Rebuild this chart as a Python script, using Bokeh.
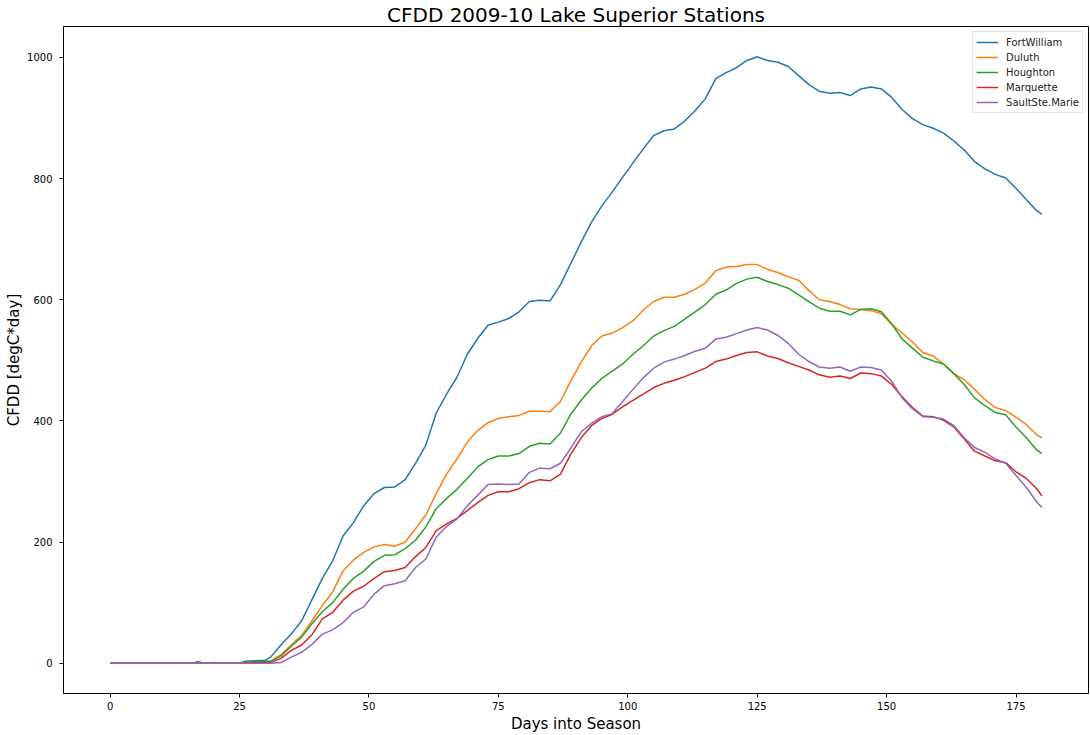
from bokeh.plotting import figure
from bokeh.models import Range1d, FixedTicker, Legend, LegendItem
from bokeh.embed import file_html
from bokeh.resources import INLINE

# Cumulative freezing degree days, 2009-10 season
days = [0, 5, 10, 15, 16, 17, 18, 19, 20, 21, 25, 26, 28, 30, 31,
        33, 35, 37, 39, 41, 43, 45, 47, 49, 51, 53, 55, 57, 59, 61, 63, 65, 67, 69,
        71, 73, 75, 77, 79, 81, 83, 85, 87, 89, 91, 93, 95, 97, 99, 101, 103, 105,
        107, 109, 111, 113, 115, 117, 119, 121, 123, 125, 127, 129, 131, 133, 135,
        137, 139, 141, 143, 145, 147, 149, 151, 153, 155, 157, 159, 161, 163, 165,
        167, 169, 171, 173, 175, 177, 179, 180]

fort_william = [0, 0, 0, 0, 0, 3, 0, 0, 1, 0, 0, 3, 4, 5, 10,
                30, 48, 70, 105, 140, 169, 210, 232, 260, 280, 290, 291, 303, 330, 360, 413, 444, 472, 510,
                536, 558, 563, 569, 580, 597, 599, 598, 625, 660, 695, 728, 755, 778, 802, 826, 849, 871,
                879, 882, 895, 912, 932, 965, 975, 983, 995, 1001, 995, 992, 985, 970, 955,
                944, 941, 942, 937, 948, 951, 948, 934, 914, 899, 889, 883, 875, 862, 847,
                828, 816, 807, 801, 784, 765, 747, 741]

duluth = [0, 0, 0, 0, 0, 0, 0, 0, 0, 0, 0, 1, 2, 2, 3,
          14, 30, 46, 70, 95, 118, 152, 170, 183, 192, 196, 193, 200, 222, 245, 280, 312, 337, 365,
          384, 397, 404, 407, 409, 416, 416, 415, 432, 466, 497, 524, 540, 545, 554, 565, 583, 597,
          604, 604, 609, 617, 628, 648, 654, 655, 658, 658, 650, 645, 638, 632, 615,
          600, 597, 592, 585, 584, 582, 577, 559, 545, 530, 513, 507, 494, 478, 468,
          452, 435, 422, 417, 406, 394, 377, 372]

houghton = [0, 0, 0, 0, 0, 0, 0, 0, 0, 0, 0, 2, 3, 3, 3,
            12, 28, 43, 65, 85, 100, 122, 140, 152, 168, 178, 179, 189, 203, 225, 255, 272, 287, 305,
            324, 336, 342, 342, 346, 358, 363, 362, 380, 411, 434, 454, 470, 482, 494, 510, 524, 540,
            549, 556, 568, 580, 592, 609, 616, 627, 634, 637, 630, 625, 619, 608, 597,
            586, 581, 581, 575, 584, 585, 580, 560, 535, 520, 505, 499, 494, 478, 460,
            438, 425, 414, 410, 390, 372, 352, 346]

marquette = [0, 0, 0, 0, 0, 0, 0, 0, 0, 0, 0, 0, 1, 1, 1,
             8, 21, 30, 47, 73, 84, 104, 119, 127, 140, 151, 153, 158, 176, 191, 219, 230, 239, 252,
             265, 277, 283, 283, 288, 298, 303, 301, 312, 345, 372, 392, 404, 411, 423, 434, 444, 455,
             462, 467, 473, 480, 487, 498, 502, 508, 513, 514, 507, 503, 496, 490, 484,
             476, 472, 474, 470, 479, 478, 474, 460, 440, 422, 408, 407, 401, 390, 370,
             350, 342, 334, 331, 316, 305, 288, 276]

sault_ste_marie = [0, 0, 0, 0, 0, 0, 0, 0, 0, 0, 0, 0, 0, 0, 0,
                   1, 10, 18, 31, 48, 55, 67, 84, 93, 114, 128, 131, 136, 158, 172, 208, 226, 238, 260,
                   277, 295, 296, 295, 296, 315, 322, 321, 330, 355, 382, 396, 407, 412, 432, 452, 471, 487,
                   497, 502, 508, 515, 520, 535, 538, 544, 550, 554, 550, 541, 528, 510, 498,
                   489, 487, 489, 482, 489, 488, 484, 465, 438, 420, 407, 406, 403, 392, 372,
                   356, 348, 337, 330, 310, 290, 266, 257]

stations = ["FortWilliam", "Duluth", "Houghton", "Marquette", "SaultSte.Marie"]
series = [fort_william, duluth, houghton, marquette, sault_ste_marie]
colors = ["#1f77b4", "#ff7f0e", "#2ca02c", "#d62728", "#9467bd"]

x_ticks = [0, 25, 50, 75, 100, 125, 150, 175]
y_ticks = [0, 200, 400, 600, 800, 1000]

FONT = "DejaVu Sans"

p = figure(width=1090, height=735, output_backend="svg", toolbar_location=None,
           x_range=Range1d(-9, 189), y_range=Range1d(-50.05, 1051.05),
           min_border_left=63, min_border_right=2, min_border_top=0, min_border_bottom=42)

p.title.text = "CFDD 2009-10 Lake Superior Stations"
p.title.text_font = FONT
p.title.text_font_size = "20px"
p.title.text_font_style = "normal"
p.title.align = "center"
p.title.text_color = "black"
p.title.standoff = 0

p.grid.visible = False
p.outline_line_color = "black"
p.outline_line_width = 1
p.background_fill_color = "white"
p.border_fill_color = "white"

for ax in (p.xaxis[0], p.yaxis[0]):
    ax.axis_line_color = "black"
    ax.major_tick_line_color = "black"
    ax.major_tick_out = 4
    ax.major_tick_in = 0
    ax.minor_tick_line_color = None
    ax.major_label_text_font = FONT
    ax.major_label_text_font_size = "10px"
    ax.major_label_text_color = "black"
    ax.axis_label_text_font = FONT
    ax.axis_label_text_font_size = "15px"
    ax.axis_label_text_font_style = "normal"
    ax.axis_label_text_color = "black"

p.xaxis.ticker = FixedTicker(ticks=x_ticks)
p.yaxis.ticker = FixedTicker(ticks=y_ticks)
p.xaxis.axis_label = "Days into Season"
p.yaxis.axis_label = "CFDD [degC*day]"
p.xaxis.major_label_standoff = 4
p.yaxis.major_label_standoff = 7
p.xaxis.axis_label_standoff = 2
p.yaxis.axis_label_standoff = 1

items = []
for name, vals, col in zip(stations, series, colors):
    r = p.line(days, vals, line_color=col, line_width=1.5)
    items.append(LegendItem(label=name, renderers=[r]))

legend = Legend(items=items, location="top_right")
legend.label_text_font = FONT
legend.label_text_font_size = "10px"
legend.label_text_color = "#222222"
legend.glyph_width = 22
legend.glyph_height = 14
legend.label_height = 14
legend.label_standoff = 8
legend.spacing = 1
legend.padding = 3
legend.margin = 5
legend.border_line_color = "#cccccc"
legend.border_line_width = 1
legend.background_fill_alpha = 0.8
p.add_layout(legend)

open("out.html", "w").write(file_html(p, INLINE))
